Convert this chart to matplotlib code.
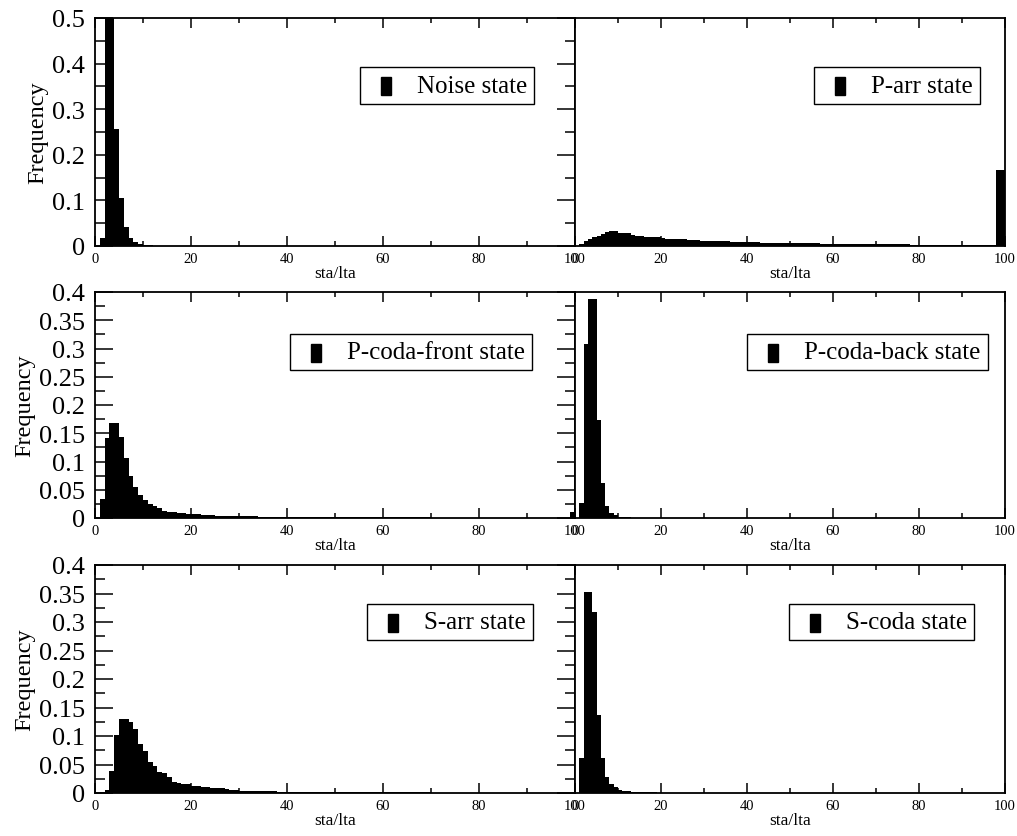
import matplotlib
matplotlib.use("Agg")
import matplotlib.pyplot as plt
from matplotlib.patches import Rectangle
from matplotlib.legend_handler import HandlerPatch
from matplotlib.ticker import MultipleLocator, FuncFormatter
import numpy as np

plt.rcParams['font.family'] = ['Liberation Serif', 'DejaVu Serif']

# ---------------- data (frequency per unit-wide sta/lta bin, bins 0..99) -------------
bin_left = list(range(100))

noise = [
    0, 0.018, 0.62, 0.55, 0.257, 0.105, 0.042, 0.018, 0.009, 0.004,
    0.002, 0.0012, 0.0008, 0.0006, 0.0005, 0.0004, 0.0003, 0.0003, 0.0002, 0.0002,
    0, 0, 0, 0, 0, 0, 0, 0, 0, 0,
    0, 0, 0, 0, 0, 0, 0, 0, 0, 0,
    0, 0, 0, 0, 0, 0, 0, 0, 0, 0,
    0, 0, 0, 0, 0, 0, 0, 0, 0, 0,
    0, 0, 0, 0, 0, 0, 0, 0, 0, 0,
    0, 0, 0, 0, 0, 0, 0, 0, 0, 0,
    0, 0, 0, 0, 0, 0, 0, 0, 0, 0,
    0, 0, 0, 0, 0, 0, 0, 0, 0, 0,
]

p_arr = [
    0, 0.005, 0.010, 0.016, 0.019, 0.021, 0.026, 0.030, 0.032, 0.032,
    0.029, 0.029, 0.029, 0.024, 0.023, 0.022, 0.020, 0.020, 0.019, 0.019,
    0.017, 0.016, 0.016, 0.016, 0.015, 0.015, 0.014, 0.013, 0.013, 0.012,
    0.012, 0.012, 0.011, 0.010, 0.010, 0.010, 0.0095, 0.0095, 0.009, 0.009,
    0.0085, 0.008, 0.008, 0.0075, 0.0075, 0.007, 0.007, 0.007, 0.0068, 0.0066,
    0.0065, 0.0062, 0.006, 0.006, 0.0058, 0.0056, 0.0055, 0.0054, 0.0052, 0.005,
    0.005, 0.0048, 0.0047, 0.0046, 0.0045, 0.0044, 0.0043, 0.0042, 0.0041, 0.004,
    0.004, 0.0039, 0.0038, 0.0037, 0.0036, 0.0035, 0.0034, 0.0033, 0.0032, 0.0031,
    0.003, 0.003, 0.003, 0.0029, 0.0029, 0.0028, 0.0028, 0.0027, 0.0027, 0.0026,
    0.0026, 0.0026, 0.0025, 0.0025, 0.0025, 0.0024, 0.0024, 0.0024, 0.166, 0.166,
]

p_coda_front = [
    0, 0.034, 0.142, 0.169, 0.169, 0.143, 0.106, 0.074, 0.055, 0.040,
    0.032, 0.025, 0.021, 0.0177, 0.013, 0.011, 0.0105, 0.009, 0.0088, 0.007,
    0.007, 0.007, 0.0053, 0.0053, 0.0053, 0.0038, 0.0036, 0.0035, 0.0034, 0.003,
    0.003, 0.0029, 0.0028, 0.0027, 0.0026, 0.0025, 0.0024, 0.0023, 0.0022, 0.0021,
    0.002, 0.002, 0.0019, 0.0018, 0.0018, 0.0017, 0.0016, 0.0016, 0.0015, 0.0015,
    0.0014, 0.0014, 0.0013, 0.0013, 0.0012, 0.0012, 0.0012, 0.0011, 0.0011, 0.0011,
    0.001, 0.001, 0.001, 0.001, 0.001, 0.0009, 0.0009, 0.0009, 0.0009, 0.0009,
    0.0008, 0.0008, 0.0008, 0.0008, 0.0008, 0.0008, 0.0008, 0.0008, 0.0008, 0.0008,
    0.0008, 0.0007, 0.0007, 0.0007, 0.0007, 0.0007, 0.0007, 0.0007, 0.0007, 0.0007,
    0.0007, 0.0007, 0.0007, 0.0007, 0.0007, 0.0007, 0.0007, 0.0007, 0.0007, 0.011,
]

p_coda_back = [
    0, 0.027, 0.308, 0.387, 0.387, 0.174, 0.062, 0.022, 0.0094, 0.0047,
    0.002, 0.0015, 0.001, 0.0008, 0.0006, 0.0005, 0.0004, 0.0003, 0.0003, 0.0002,
    0.0002, 0.0002, 0.0002, 0.0001, 0.0001, 0.0001, 0.0001, 0.0001, 0, 0,
    0, 0, 0, 0, 0, 0, 0, 0, 0, 0,
    0, 0, 0, 0, 0, 0, 0, 0, 0, 0,
    0, 0, 0, 0, 0, 0, 0, 0, 0, 0,
    0, 0, 0, 0, 0, 0, 0, 0, 0, 0,
    0, 0, 0, 0, 0, 0, 0, 0, 0, 0,
    0, 0, 0, 0, 0, 0, 0, 0, 0, 0,
    0, 0, 0, 0, 0, 0, 0, 0, 0, 0,
]

s_arr = [
    0, 0.001, 0.006, 0.039, 0.102, 0.129, 0.129, 0.125, 0.112, 0.086,
    0.074, 0.055, 0.047, 0.037, 0.035, 0.0275, 0.020, 0.018, 0.016, 0.016,
    0.012, 0.012, 0.0105, 0.0105, 0.0088, 0.0088, 0.0088, 0.007, 0.005, 0.005,
    0.004, 0.004, 0.004, 0.003, 0.003, 0.003, 0.003, 0.0028, 0.0026, 0.0025,
    0.0024, 0.0023, 0.0022, 0.0021, 0.002, 0.0019, 0.0018, 0.0017, 0.0016, 0.0015,
    0.0015, 0.0014, 0.0014, 0.0013, 0.0013, 0.0012, 0.0012, 0.0011, 0.0011, 0.001,
    0.001, 0.001, 0.001, 0.001, 0.0009, 0.0009, 0.0009, 0.0009, 0.0009, 0.0009,
    0.0008, 0.0008, 0.0008, 0.0008, 0.0008, 0.0007, 0.0007, 0.0007, 0.0007, 0.0007,
    0.0006, 0.0006, 0.0006, 0.0006, 0.0006, 0.0005, 0.0005, 0.0005, 0.0005, 0.0005,
    0.0005, 0.0004, 0.0004, 0.0004, 0.0004, 0.0004, 0.0004, 0.0004, 0.0004, 0.0004,
]

s_coda = [
    0, 0.0615, 0.353, 0.353, 0.318, 0.1376, 0.0615, 0.0287, 0.0158, 0.010,
    0.0056, 0.004, 0.003, 0.0025, 0.002, 0.0015, 0.0012, 0.001, 0.0009, 0.0008,
    0.0007, 0.0006, 0.0005, 0.0005, 0.0004, 0.0004, 0.0003, 0.0003, 0.0003, 0.0002,
    0.0002, 0.0002, 0.0002, 0.0002, 0.0002, 0.0001, 0.0001, 0.0001, 0.0001, 0.0001,
    0, 0, 0, 0, 0, 0, 0, 0, 0, 0,
    0, 0, 0, 0, 0, 0, 0, 0, 0, 0,
    0, 0, 0, 0, 0, 0, 0, 0, 0, 0,
    0, 0, 0, 0, 0, 0, 0, 0, 0, 0,
    0, 0, 0, 0, 0, 0, 0, 0, 0, 0,
    0, 0, 0, 0, 0, 0, 0, 0, 0, 0,
]

state_labels = ["Noise state", "P-arr state", "P-coda-front state",
                "P-coda-back state", "S-arr state", "S-coda state"]
xlabel_text = "sta/lta"
ylabel_text = "Frequency"
x_ticks = [0, 20, 40, 60, 80, 100]

# ---------------- layout -------------------------------------------------------------
W, H = 1017, 837
fig = plt.figure(figsize=(W / 100, H / 100), dpi=100)


def ax_at(x0, y0, x1, y1):
    return fig.add_axes([x0 / W, 1 - y1 / H, (x1 - x0) / W, (y1 - y0) / H])


rows = [(19, 247), (293, 519), (566, 794)]
cols = [(95, 575), (575, 1005)]
ylims = [0.5, 0.4, 0.4]
ymajor = [0.1, 0.05, 0.05]

series = [noise, p_arr, p_coda_front, p_coda_back, s_arr, s_coda]
legend_anchor = [(0.915, 0.785), (0.942, 0.785), (0.910, 0.815),
                 (0.960, 0.815), (0.912, 0.83), (0.928, 0.83)]


def narrow_rect(legend, orig_handle, xdescent, ydescent, width, height, fontsize):
    w = 0.4 * fontsize
    return Rectangle((-xdescent + (width - w) / 2, -ydescent - 0.13 * fontsize),
                     w, height)


fmt = FuncFormatter(lambda v, p: "%g" % round(v, 4))

for r, (y0, y1) in enumerate(rows):
    for c, (x0, x1) in enumerate(cols):
        i = r * 2 + c
        ax = ax_at(x0, y0, x1, y1)
        ax.bar(bin_left, series[i], width=1.0, align='edge', color='black',
               linewidth=0)
        ax.set_xlim(0, 100)
        ax.set_ylim(0, ylims[r])
        for s in ax.spines.values():
            s.set_linewidth(1.3)
        ax.set_xticks(x_ticks)
        ax.xaxis.set_minor_locator(MultipleLocator(10))
        ax.tick_params(axis='x', which='both', direction='in', top=True,
                       bottom=True, labelsize=10.5, pad=4)
        ax.tick_params(axis='x', which='major', length=7, width=1.1)
        ax.tick_params(axis='x', which='minor', length=3.5, width=1.1)
        ax.set_xlabel(xlabel_text, fontsize=12.5, labelpad=0)
        if c == 0:
            ax.yaxis.set_major_locator(MultipleLocator(ymajor[r]))
            ax.yaxis.set_minor_locator(MultipleLocator(ymajor[r] / 2))
            ax.yaxis.set_major_formatter(fmt)
            ax.tick_params(axis='y', which='both', direction='in', left=True,
                           right=True, labelsize=19, pad=7)
            ax.tick_params(axis='y', which='major', length=13, width=1.1)
            ax.tick_params(axis='y', which='minor', length=7, width=1.1)
            ax.set_ylabel(ylabel_text, fontsize=17.5, labelpad=3)
        else:
            ax.set_yticks([])
        handle = Rectangle((0, 0), 1, 1, facecolor='black', edgecolor='black')
        leg = ax.legend([handle], [state_labels[i]], loc='upper right',
                        bbox_to_anchor=legend_anchor[i], fontsize=18,
                        handlelength=1.5, handleheight=0.72, handletextpad=0.5,
                        borderpad=0.28, borderaxespad=0, fancybox=False,
                        framealpha=1, edgecolor='black',
                        handler_map={Rectangle: HandlerPatch(patch_func=narrow_rect)})
        leg.get_frame().set_linewidth(1.0)

fig.savefig("out.png", dpi=100)
